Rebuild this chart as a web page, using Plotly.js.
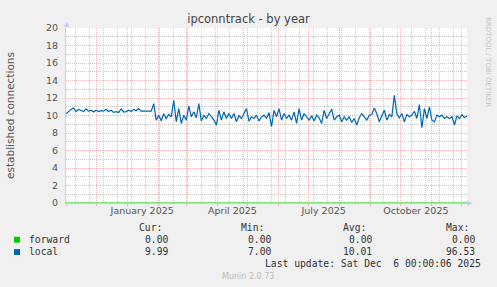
<!DOCTYPE html>
<html>
<head>
<meta charset="utf-8">
<script src="https://cdn.plot.ly/plotly-3.0.1.min.js"></script>
<style>html,body{margin:0;padding:0;background:#F0F0F0;}#chart{width:497px;height:287px;}</style>
</head>
<body>
<div id="chart"></div>
<script>
// ---- data ----
const startDate = '2024-11-01';
const endDate = '2025-12-06';
const stepDays = 2.5; // sampling interval of the values below
const localValues = [
  10.2, 10.5, 10.7, 10.85, 10.45, 10.7, 10.6, 10.45, 10.75, 10.5,
  10.6, 10.4, 10.6, 10.45, 10.55, 10.5, 10.7, 10.45, 10.6, 10.35,
  10.45, 10.35, 10.75, 10.4, 10.45, 10.6, 10.45, 10.7, 10.55, 10.8,
  10.49, 10.49, 10.49, 10.45, 10.5, 11.36, 9.47, 10.04, 9.4, 10.2,
  9.66, 10.11, 9.85, 11.74, 9.28, 10.79, 9.09, 10.04, 9.47, 11.09,
  9.85, 10.42, 9.74, 11.36, 9.36, 10.04, 9.66, 10.23, 9.85, 9.5,
  8.91, 10.6, 9.47, 10.42, 9.66, 10.23, 9.66, 10.23, 9.28, 9.98,
  9.66, 10.23, 10.79, 9.36, 9.85, 9.66, 10.04, 9.36, 9.85, 10.04,
  9.66, 10.34, 8.72, 10.6, 9.85, 10.79, 9.47, 10.23, 9.66, 10.04,
  9.47, 10.42, 9.09, 10.79, 9.47, 10.23,
  9.85, 9.47, 9.96, 9.36, 10.04, 9.74, 9.09, 10.6, 9.66, 10.23,
  10.72, 9.47, 9.85, 10.04, 9.28, 9.85, 9.47, 9.85, 9.21, 9.66,
  8.91, 9.74, 10.23, 9.85, 9.47, 10.04, 10.11, 10.87, 10.23, 9.28,
  9.85, 10.6, 9.47, 10.11, 9.85, 12.3, 10.23, 9.74, 10.23, 9.28,
  10.11, 9.85, 10.04, 10.49, 9.66, 11.25, 8.6, 10.79, 9.66, 10.98,
  9.47, 9.28, 10.04, 9.85, 10.04, 9.66, 9.85, 9.66, 9.85, 8.91,
  9.96, 9.66, 10.11, 9.74, 9.96
];
const forwardDates = ['2024-11-01', '2025-12-06'];
const forwardValues = [0, 0];

const monthLabelDates = ['2025-01-16', '2025-04-16', '2025-07-16', '2025-10-16'];
const monthLabelText = ['January 2025', 'April 2025', 'July 2025', 'October 2025'];

const legendNames = ['forward', 'local'];
const legendColors = ['#00CC00', '#0066B3'];
const statHeaders = ['Cur:', 'Min:', 'Avg:', 'Max:'];
const statForward = ['0.00', '0.00', '0.00', '0.00'];
const statLocal = ['9.99', '7.00', '10.01', '96.53'];
const lastUpdate = 'Last update: Sat Dec\u00A0\u00A06 00:00:06 2025';

// ---- build ----
const DAY = 86400000;
const t0 = Date.parse(startDate + 'T00:00:00Z');
const localDates = localValues.map((v, i) => new Date(t0 + i * stepDays * DAY).toISOString().slice(0, 19).replace('T', ' '));

const W = 497, H = 287, L = 66, R = 467, T = 28, B = 203;
const px = x => (x - L) / (R - L);
const py = y => (B - y) / (B - T);

const RED = 'rgba(230,140,140,0.6)';
const GRAY = 'rgba(150,150,150,0.5)';
const DOTS = '1px,1px';
const AXIS = '#C8CCF0';

const traces = [
  {x: forwardDates, y: [null, null], type: 'scatter', mode: 'lines', xaxis: 'x2', yaxis: 'y', hoverinfo: 'skip'},
  {x: forwardDates, y: [null, null], type: 'scatter', mode: 'lines', xaxis: 'x3', yaxis: 'y', hoverinfo: 'skip'},
  {x: localDates, y: localValues, type: 'scatter', mode: 'lines', name: 'local',
   line: {color: legendColors[1], width: 1.2}, xaxis: 'x', yaxis: 'y', hoverinfo: 'skip'},
  {x: forwardDates, y: forwardValues, type: 'scatter', mode: 'lines', name: 'forward',
   line: {color: legendColors[0], width: 1.2}, xaxis: 'x', yaxis: 'y', hoverinfo: 'skip'}
];

const mono = {family: 'DejaVu Sans Mono', size: 9.7, color: '#333'};
const ann = [];
function txt(text, x, y, xanchor, font, extra) {
  ann.push(Object.assign({text: text, xref: 'paper', yref: 'paper', x: px(x), y: py(y),
    xanchor: xanchor, yanchor: 'middle', showarrow: false, font: font}, extra || {}));
}
const statRight = [170, 272.7, 374.3, 476.7];
const headRight = [163.5, 266, 368, 470.5];
statHeaders.forEach((h, i) => txt(h, headRight[i], 227.7, 'right', mono));
legendNames.forEach((n, r) => {
  const yy = r === 0 ? 239.3 : 251.7;
  txt(n, 26.5, yy, 'left', mono);
  const vals = r === 0 ? statForward : statLocal;
  vals.forEach((v, i) => txt(v, statRight[i], yy, 'right', mono));
});
txt(lastUpdate, 482.5, 263.3, 'right', mono);
txt('Munin 2.0.73', 248, 276, 'center', {family: 'DejaVu Sans', size: 8, color: '#BBBBBB'});
txt('RRDTOOL / TOBI OETIKER', 488, 62, 'center', {family: 'DejaVu Sans', size: 7, color: '#C4C4C4'}, {textangle: 90});
txt('\u25B2', 66.5, 24.5, 'center', {family: 'DejaVu Sans', size: 7, color: AXIS});
txt('\u25B6', 470, 203, 'center', {family: 'DejaVu Sans', size: 7, color: AXIS});

const shapes = legendNames.map((n, r) => ({
  type: 'rect', xref: 'paper', yref: 'paper',
  x0: px(14), x1: px(20), y0: py(r === 0 ? 242.7 : 255), y1: py(r === 0 ? 236.8 : 249.1),
  fillcolor: legendColors[r], line: {width: 0}
}));

const layout = {
  width: W, height: H,
  margin: {l: L, r: W - R, t: T, b: H - B, pad: 0},
  paper_bgcolor: '#F0F0F0', plot_bgcolor: '#FFFFFF',
  showlegend: false,
  font: {family: 'DejaVu Sans', size: 9.5, color: '#555'},
  title: {text: 'ipconntrack - by year', font: {family: 'DejaVu Sans', size: 11.5, color: '#444'},
          x: 0.5, xref: 'container', xanchor: 'center', y: 1 - 19 / H, yref: 'container', yanchor: 'middle'},
  xaxis: {type: 'date', range: [startDate, endDate], tickmode: 'linear', tick0: '2024-11-10', dtick: 14 * DAY,
          showticklabels: false, showgrid: true, gridcolor: GRAY, griddash: DOTS, gridwidth: 1,
          ticks: '', showline: true, linecolor: AXIS, zeroline: false, fixedrange: true},
  xaxis2: {type: 'date', overlaying: 'x', anchor: 'y', side: 'bottom', range: [startDate, endDate],
           tickmode: 'array', tickvals: monthLabelDates, ticktext: monthLabelText,
           showgrid: false, ticks: '', zeroline: false, showline: false,
           tickfont: {family: 'DejaVu Sans', size: 9.5, color: '#555'}, fixedrange: true},
  xaxis3: {type: 'date', overlaying: 'x', anchor: 'y', side: 'bottom', range: [startDate, endDate],
           tickmode: 'linear', tick0: '2024-12-01', dtick: 'M1', showticklabels: false,
           showgrid: true, gridcolor: RED, griddash: DOTS, gridwidth: 1,
           ticks: 'outside', ticklen: 2, tickcolor: RED, zeroline: false, showline: false, fixedrange: true},
  yaxis: {range: [0, 20], tickmode: 'linear', tick0: 0, dtick: 2,
          showgrid: true, gridcolor: RED, griddash: DOTS, gridwidth: 1,
          minor: {tickmode: 'array', tickvals: [1, 3, 5, 7, 9, 11, 13, 15, 17, 19], showgrid: true, gridcolor: GRAY, griddash: DOTS, gridwidth: 1},
          showline: true, linecolor: AXIS, zeroline: false, ticks: '', ticklabelstandoff: 5,
          tickfont: {family: 'DejaVu Sans', size: 9.5, color: '#555'},
          title: {text: 'established connections', font: {family: 'DejaVu Sans', size: 10.5, color: '#555'}, standoff: 29},
          fixedrange: true},
  annotations: ann,
  shapes: shapes
};

Plotly.newPlot('chart', traces, layout, {displayModeBar: false, staticPlot: true});
</script>
</body>
</html>
